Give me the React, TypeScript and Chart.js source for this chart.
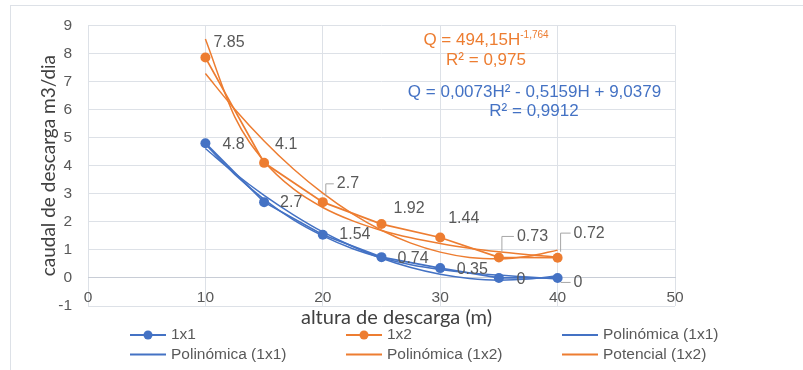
import React, { useEffect, useRef } from 'react';
import { Chart, registerables } from 'chart.js';

Chart.register(...registerables);

// ---------- data ----------
const H_VALUES = [10, 15, 20, 25, 30, 35, 40];
const Q_1X1 = [4.8, 2.7, 1.54, 0.74, 0.35, 0, 0];
const Q_1X2 = [7.85, 4.1, 2.7, 1.92, 1.44, 0.73, 0.72];
const LABELS_1X1 = ['4.8', '2.7', '1.54', '0.74', '0.35', '0', '0'];
const LABELS_1X2 = ['7.85', '4.1', '2.7', '1.92', '1.44', '0.73', '0.72'];

// trendlines at steps of 2.5
const TREND_H = [10, 12.5, 15, 17.5, 20, 22.5, 25, 27.5, 30, 32.5, 35, 37.5, 40];
const POLY_1X1_A = [4.61, 3.73, 2.94, 2.25, 1.64, 1.13, 0.7, 0.37, 0.13, -0.02, -0.08, -0.04, 0.08];
const POLY_1X1_B = [4.76, 3.69, 2.8, 2.07, 1.5, 1.05, 0.72, 0.47, 0.3, 0.18, 0.1, 0.03, -0.04];
const POLY_1X2 = [7.28, 6.01, 4.88, 3.88, 3.02, 2.29, 1.7, 1.24, 0.92, 0.73, 0.68, 0.77, 0.99];
const POT_1X2 = [8.51, 5.74, 4.16, 3.17, 2.51, 2.04, 1.69, 1.43, 1.23, 1.06, 0.93, 0.83, 0.74];

const X_TICKS = [0, 10, 20, 30, 40, 50];
const Y_TICKS = [-1, 0, 1, 2, 3, 4, 5, 6, 7, 8, 9];

const SERIES_NAMES = ['1x1', '1x2', 'Polinómica (1x1)', 'Polinómica (1x1)', 'Polinómica (1x2)', 'Potencial (1x2)'];
const X_TITLE = 'altura de descarga (m)';
const Y_TITLE = 'caudal de descarga m3/dia';
const EQ_POT_MAIN = 'Q = 494,15H';
const EQ_POT_EXP = '-1,764';
const EQ_POT_R2 = 'R² = 0,975';
const EQ_POLY = 'Q = 0,0073H² - 0,5159H + 9,0379';
const EQ_POLY_R2 = 'R² = 0,9912';

// ---------- styles ----------
const BLUE = '#4472C4';
const ORANGE = '#ED7D31';
const GRID = '#dde1e7';
const TEXT = '#595959';
const TITLE_COLOR = '#404040';
const SANS = '"Liberation Sans", Arial, sans-serif';

// label offsets [dx, dy, leader]
const OFFS_1X1: [number, number, boolean][] = [
  [17, 1, false], [16, 0, false], [16.5, 0, false], [16, 1, false], [16.5, 1.5, false], [17.5, 1.5, false], [16, 4.5, true],
];
const OFFS_1X2: [number, number, boolean][] = [
  [8, -14.5, false], [11, -18.6, false], [14, -18.3, true], [12, -15.5, false], [8, -19, false], [18, -21, true], [16, -24.6, true],
];

const toXY = (xs: number[], ys: number[]) => xs.map((x, i) => ({ x, y: ys[i] }));

const pointLabelPlugin = {
  id: 'pointLabels',
  afterDatasetsDraw(chart: any) {
    const ctx = chart.ctx;
    ctx.save();
    ctx.font = `16px ${SANS}`;
    ctx.textBaseline = 'middle';
    ctx.textAlign = 'left';
    const groups: [number, string[], [number, number, boolean][]][] = [
      [0, LABELS_1X1, OFFS_1X1],
      [1, LABELS_1X2, OFFS_1X2],
    ];
    groups.forEach(([di, labels, offs]) => {
      const meta = chart.getDatasetMeta(di);
      meta.data.forEach((pt: any, i: number) => {
        const [dx, dy, leader] = offs[i];
        const tx = pt.x + dx;
        const ty = pt.y + dy;
        if (leader) {
          ctx.strokeStyle = '#a6a6a6';
          ctx.lineWidth = 1;
          ctx.beginPath();
          const x0 = pt.x + 3;
          if (ty < pt.y - 6) {
            ctx.moveTo(x0, pt.y - 6);
            ctx.lineTo(x0, ty);
          } else {
            ctx.moveTo(x0, ty);
          }
          ctx.lineTo(tx - 3, ty);
          ctx.stroke();
        }
        ctx.fillStyle = TEXT;
        ctx.fillText(labels[i], tx, ty);
      });
    });
    ctx.restore();
  },
};

const equationPlugin = {
  id: 'equations',
  afterDraw(chart: any) {
    const ctx = chart.ctx;
    ctx.save();
    ctx.textBaseline = 'middle';
    ctx.textAlign = 'left';
    // potential (orange)
    ctx.font = `17px ${SANS}`;
    const wMain = ctx.measureText(EQ_POT_MAIN).width;
    ctx.font = `10px ${SANS}`;
    const wExp = ctx.measureText(EQ_POT_EXP).width;
    const cxO = 486;
    const x0 = cxO - (wMain + wExp) / 2;
    ctx.fillStyle = ORANGE;
    ctx.font = `17px ${SANS}`;
    ctx.fillText(EQ_POT_MAIN, x0, 40);
    ctx.font = `10px ${SANS}`;
    ctx.fillText(EQ_POT_EXP, x0 + wMain, 35);
    ctx.font = `17px ${SANS}`;
    ctx.textAlign = 'center';
    ctx.fillText(EQ_POT_R2, cxO, 60);
    // polynomial (blue)
    ctx.fillStyle = BLUE;
    ctx.fillText(EQ_POLY, 534.5, 92.5);
    ctx.fillText(EQ_POLY_R2, 534, 111.5);
    ctx.restore();
  },
};

const legendPlugin = {
  id: 'gridLegend',
  afterDraw(chart: any) {
    const ctx = chart.ctx;
    const left = 130;
    const colW = 216;
    const rows = [335, 354.5];
    const lineLen = 36;
    ctx.save();
    ctx.font = `15.5px ${SANS}`;
    ctx.textBaseline = 'middle';
    ctx.textAlign = 'left';
    chart.data.datasets.forEach((ds: any, i: number) => {
      const col = i % 3;
      const row = Math.floor(i / 3);
      const x = left + col * colW;
      const y = rows[row];
      ctx.strokeStyle = ds.borderColor;
      ctx.lineWidth = 2;
      ctx.beginPath();
      ctx.moveTo(x, y);
      ctx.lineTo(x + lineLen, y);
      ctx.stroke();
      if (ds.pointRadius > 0) {
        ctx.fillStyle = ds.borderColor;
        ctx.beginPath();
        ctx.arc(x + lineLen / 2, y, 4.5, 0, Math.PI * 2);
        ctx.fill();
      }
      ctx.fillStyle = TEXT;
      ctx.fillText(ds.label, x + lineLen + 5, y);
    });
    ctx.restore();
  },
};

export default function App() {
  const ref = useRef<HTMLCanvasElement>(null);
  useEffect(() => {
    document.body.style.margin = '0';
    const canvas = ref.current!;
    const seriesCommon = { borderWidth: 1.75, pointRadius: 5, pointHoverRadius: 5, pointBorderWidth: 0, order: 0 };
    const trendCommon = { borderWidth: 1.5, pointRadius: 0, pointHoverRadius: 0, cubicInterpolationMode: 'monotone', order: 1 };
    const chart = new Chart(canvas, {
      type: 'line',
      data: {
        datasets: [
          { label: SERIES_NAMES[0], data: toXY(H_VALUES, Q_1X1), borderColor: BLUE, backgroundColor: BLUE, pointBackgroundColor: BLUE, ...seriesCommon },
          { label: SERIES_NAMES[1], data: toXY(H_VALUES, Q_1X2), borderColor: ORANGE, backgroundColor: ORANGE, pointBackgroundColor: ORANGE, ...seriesCommon },
          { label: SERIES_NAMES[2], data: toXY(TREND_H, POLY_1X1_A), borderColor: BLUE, ...trendCommon },
          { label: SERIES_NAMES[3], data: toXY(TREND_H, POLY_1X1_B), borderColor: BLUE, ...trendCommon },
          { label: SERIES_NAMES[4], data: toXY(TREND_H, POLY_1X2), borderColor: ORANGE, ...trendCommon },
          { label: SERIES_NAMES[5], data: toXY(TREND_H, POT_1X2), borderColor: ORANGE, ...trendCommon },
        ] as any,
      },
      options: {
        animation: false,
        responsive: false,
        events: [],
        layout: { padding: { left: 0, top: 23, right: 0, bottom: 40 } },
        plugins: {
          legend: { display: false },
          tooltip: { enabled: false },
          title: {
            display: true,
            position: 'bottom',
            text: X_TITLE,
            color: TITLE_COLOR,
            font: { family: 'Lato', size: 20, weight: 'normal' },
            padding: { top: 0, bottom: 0 },
          },
        },
        scales: {
          x: {
            type: 'linear',
            position: { y: 0 } as any,
            min: 0,
            max: 50,
            afterBuildTicks: (s: any) => { s.ticks = X_TICKS.map((v) => ({ value: v })); },
            grid: { color: GRID, drawTicks: false },
            border: { color: '#c8cdd6', width: 1 },
            ticks: { padding: 10, color: TEXT, font: { family: SANS, size: 15.5 }, maxRotation: 0 },
          },
          y: {
            type: 'linear',
            min: -1,
            max: 9,
            afterBuildTicks: (s: any) => { s.ticks = Y_TICKS.map((v) => ({ value: v })); },
            afterFit: (s: any) => { s.width = 88; },
            grid: { color: GRID, drawTicks: false },
            border: { display: false },
            ticks: { padding: 16, color: TEXT, font: { family: SANS, size: 15.5 } },
            title: {
              display: true,
              text: Y_TITLE,
              color: TITLE_COLOR,
              font: { family: 'Lato', size: 19, weight: 'normal' },
              padding: { top: 37, bottom: 0 },
            },
          },
          // empty right-hand margin box that keeps the plot area narrower than the canvas
          yMargin: {
            type: 'linear',
            position: 'right',
            display: true,
            min: -1,
            max: 9,
            grid: { display: false },
            border: { display: false },
            ticks: { display: false },
            afterFit: (s: any) => { s.width = 118; },
          },
        },
      } as any,
      plugins: [pointLabelPlugin, equationPlugin, legendPlugin],
    });
    return () => chart.destroy();
  }, []);
  return (
    <div style={{ position: 'relative', width: 803, height: 370, overflow: 'hidden', background: '#fff' }}>
      <div style={{ position: 'absolute', left: 10, top: 5, width: 820, height: 420, border: '1px solid #dde1e7' }} />
      <canvas ref={ref} width={793} height={370} style={{ position: 'absolute', left: 0, top: 0, display: 'block' }} />
    </div>
  );
}
